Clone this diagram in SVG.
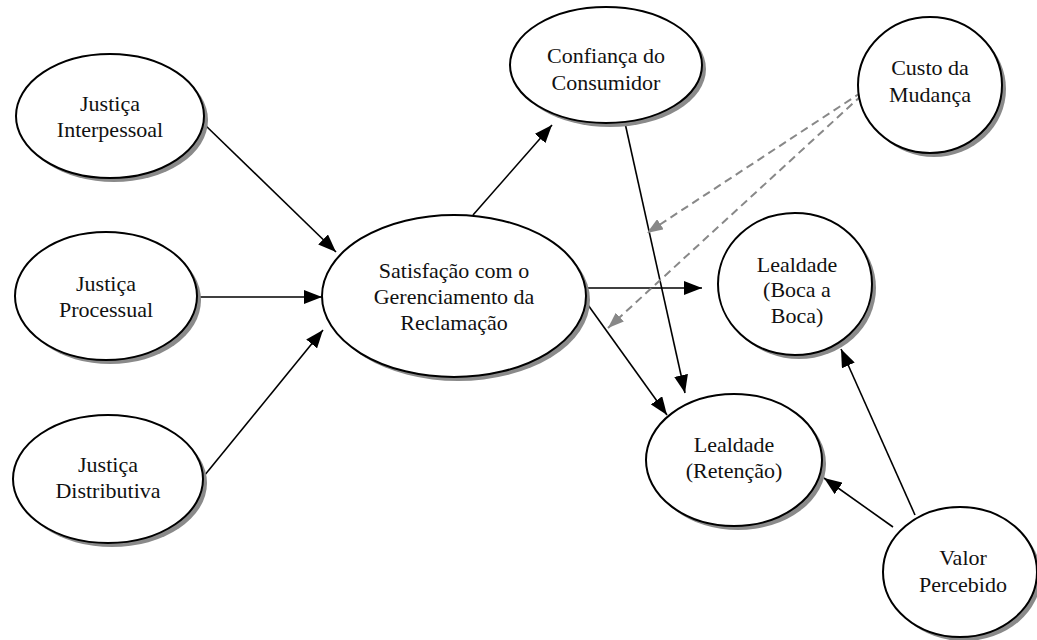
<svg xmlns="http://www.w3.org/2000/svg" width="1037" height="640" viewBox="0 0 1037 640">
  <style>
    .shadow { fill: #8a8a8a; stroke: none; }
    .node { fill: #ffffff; stroke: #000000; stroke-width: 2; }
    .label { font-family: "Liberation Serif", "Times New Roman", serif; font-size: 22px; fill: #111111; text-anchor: middle; }
    .edge { stroke: #000000; stroke-width: 1.6; fill: none; marker-end: url(#arrow); }
    .dashed { stroke: #888888; stroke-width: 2; stroke-dasharray: 8 5; fill: none; marker-end: url(#arrowGray); }
  </style>
  <defs>
    <marker id="arrow" markerUnits="userSpaceOnUse" markerWidth="18" markerHeight="14" refX="18" refY="7" orient="auto">
      <path d="M0,0 L18,7 L0,14 z" fill="#000000"/>
    </marker>
    <marker id="arrowGray" markerUnits="userSpaceOnUse" markerWidth="16" markerHeight="12" refX="16" refY="6" orient="auto">
      <path d="M0,0 L16,6 L0,12 z" fill="#888888"/>
    </marker>
  </defs>
  <rect width="1037" height="640" fill="#ffffff"/>

  <!-- connectors -->
  <g id="connectors">
    <line class="edge" x1="204" y1="124" x2="336" y2="252"/>
    <line class="edge" x1="197" y1="297" x2="322" y2="297"/>
    <line class="edge" x1="204" y1="476" x2="323" y2="330"/>
    <line class="edge" x1="473" y1="215" x2="552" y2="125"/>
    <line class="edge" x1="583" y1="288" x2="702" y2="288"/>
    <line class="edge" x1="583" y1="298" x2="667" y2="415"/>
    <line class="edge" x1="625" y1="123" x2="685" y2="393"/>
    <line class="edge" x1="893" y1="527" x2="824" y2="478"/>
    <line class="edge" x1="915" y1="515" x2="841" y2="349"/>
    <line class="dashed" x1="862" y1="92" x2="647" y2="233"/>
    <line class="dashed" x1="862" y1="95" x2="608" y2="328"/>
  </g>

  <g id="justica-interpessoal">
    <ellipse class="shadow" cx="114" cy="120" rx="94" ry="62"/>
    <ellipse class="node" cx="110" cy="116" rx="94" ry="62"/>
    <text class="label" x="110" y="111">Justiça</text>
    <text class="label" x="110" y="137">Interpessoal</text>
  </g>

  <g id="justica-processual">
    <ellipse class="shadow" cx="110" cy="300" rx="91" ry="64"/>
    <ellipse class="node" cx="106" cy="296" rx="91" ry="64"/>
    <text class="label" x="106" y="291">Justiça</text>
    <text class="label" x="106" y="317">Processual</text>
  </g>

  <g id="justica-distributiva">
    <ellipse class="shadow" cx="112" cy="483" rx="95" ry="64"/>
    <ellipse class="node" cx="108" cy="479" rx="95" ry="64"/>
    <text class="label" x="108" y="472">Justiça</text>
    <text class="label" x="108" y="498">Distributiva</text>
  </g>

  <g id="satisfacao">
    <ellipse class="shadow" cx="458" cy="300" rx="132" ry="81"/>
    <ellipse class="node" cx="454" cy="296" rx="132" ry="81"/>
    <text class="label" x="454" y="278">Satisfação com o</text>
    <text class="label" x="454" y="304">Gerenciamento da</text>
    <text class="label" x="454" y="330">Reclamação</text>
  </g>

  <g id="confianca">
    <ellipse class="shadow" cx="610" cy="69" rx="96" ry="58"/>
    <ellipse class="node" cx="606" cy="65" rx="96" ry="58"/>
    <text class="label" x="606" y="63">Confiança do</text>
    <text class="label" x="606" y="90">Consumidor</text>
  </g>

  <g id="custo-mudanca">
    <ellipse class="shadow" cx="934" cy="89" rx="72" ry="68"/>
    <ellipse class="node" cx="930" cy="85" rx="72" ry="68"/>
    <text class="label" x="930" y="75">Custo da</text>
    <text class="label" x="930" y="102">Mudança</text>
  </g>

  <g id="lealdade-boca">
    <ellipse class="shadow" cx="799" cy="288" rx="77" ry="71"/>
    <ellipse class="node" cx="795" cy="284" rx="77" ry="71"/>
    <text class="label" x="797" y="272">Lealdade</text>
    <text class="label" x="797" y="297">(Boca a</text>
    <text class="label" x="797" y="323">Boca)</text>
  </g>

  <g id="lealdade-retencao">
    <ellipse class="shadow" cx="738" cy="464" rx="88" ry="66"/>
    <ellipse class="node" cx="734" cy="460" rx="88" ry="66"/>
    <text class="label" x="734" y="452">Lealdade</text>
    <text class="label" x="734" y="478">(Retenção)</text>
  </g>

  <g id="valor-percebido">
    <ellipse class="shadow" cx="964" cy="576" rx="77" ry="65"/>
    <ellipse class="node" cx="960" cy="572" rx="77" ry="65"/>
    <text class="label" x="963" y="565">Valor</text>
    <text class="label" x="963" y="592">Percebido</text>
  </g>
</svg>
